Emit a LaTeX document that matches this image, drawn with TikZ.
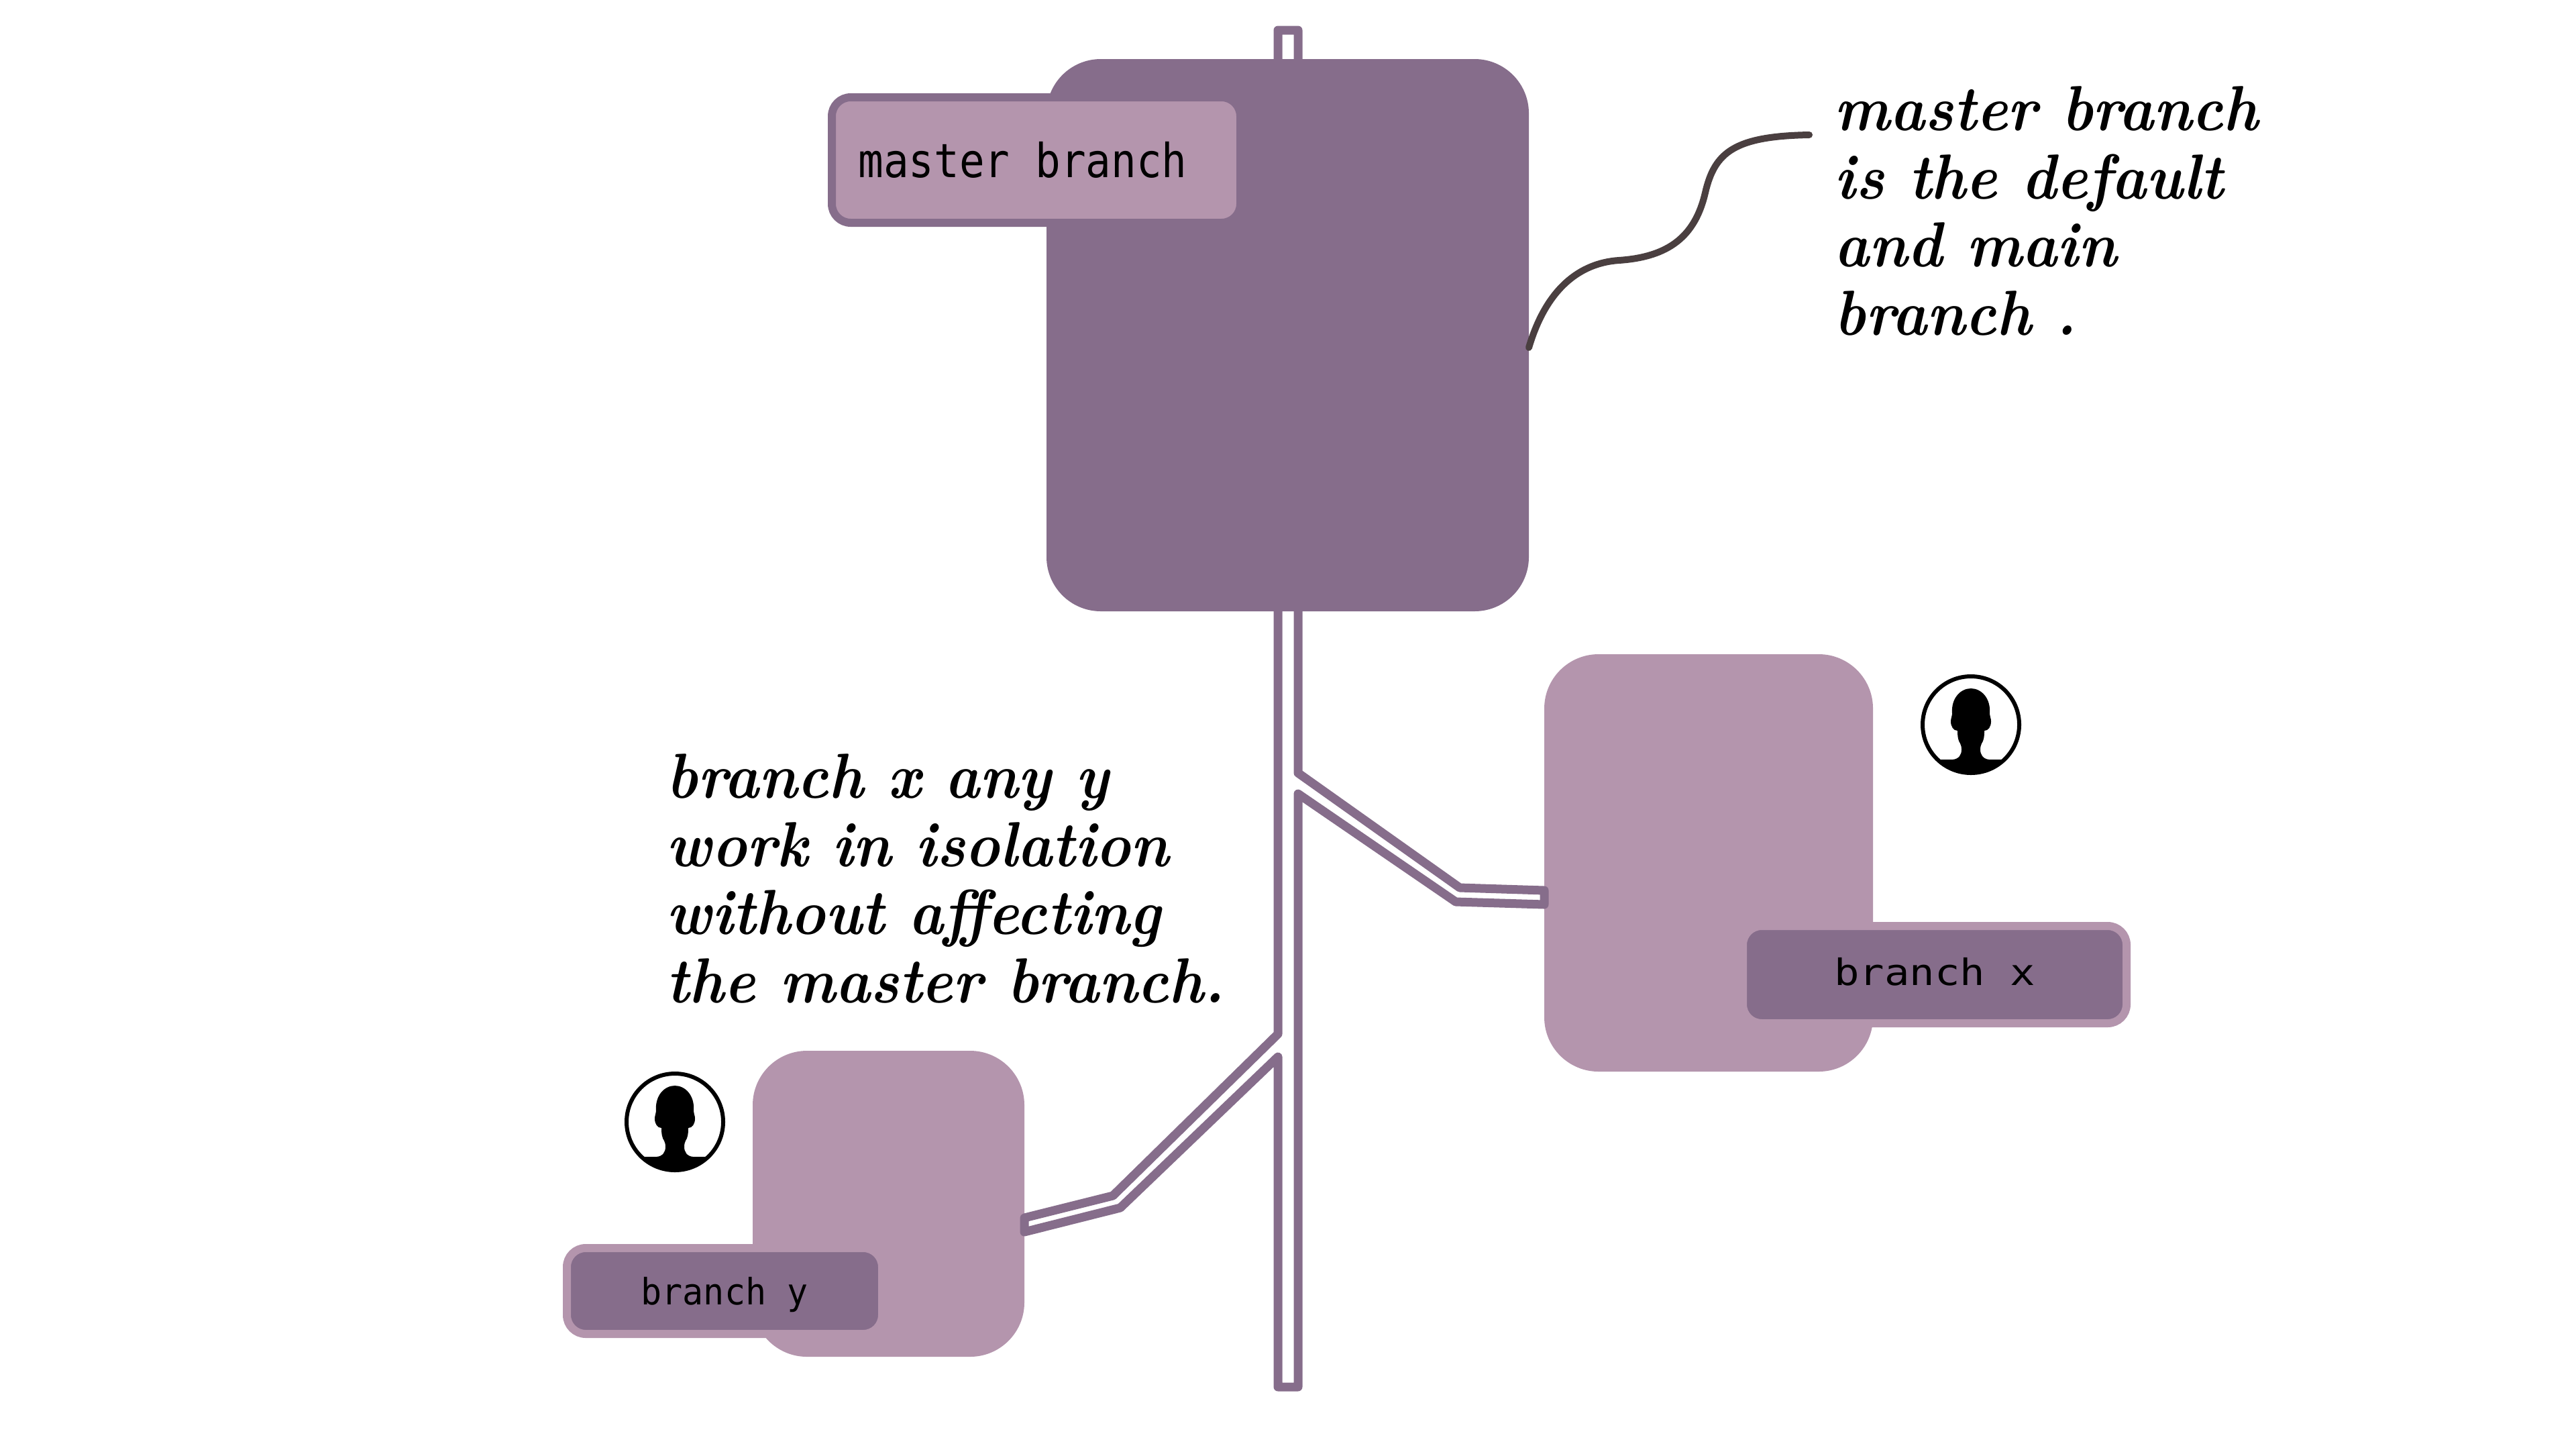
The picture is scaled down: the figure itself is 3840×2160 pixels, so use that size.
\documentclass[tikz,border=0pt]{standalone}
\usepackage{fontspec}
\usepackage{tikz}
\newfontfamily\masterfont[FakeStretch=0.895]{DejaVu Sans Mono}
\newfontfamily\xfont[FakeStretch=1.15]{DejaVu Sans Mono}
\newfontfamily\yfont[FakeStretch=0.955]{DejaVu Sans Mono}
\newfontfamily\handfont[FakeStretch=0.925]{Latin Modern Roman}
\definecolor{darkplum}{HTML}{866D8B}
\definecolor{lightplum}{HTML}{B495AD}
\definecolor{curvegrey}{HTML}{4A3F40}
\tikzset{
  workbox/.style={rectangle, rounded corners=23pt, inner sep=0pt},
  tag/.style={rectangle, rounded corners=8pt, draw, line width=12*0.01cm, inner sep=0pt},
  note/.style={align=left, inner sep=0pt, anchor=north west, font=\handfont\bfseries\itshape\fontsize{27}{28.9}\selectfont},
  pipewall/.style={draw=darkplum, fill=white, line width=13*0.01cm, line join=round},
  person/.pic={
    \node [circle, draw=black, line width=6*0.01cm, minimum size=144*0.01cm, inner sep=0pt] (-ring) at (0,0) {};
    \begin{scope}
    \clip (0,0) circle (72);
    \fill (-80,52) -- (-27,52) .. controls (-18,51) and (-14,45) .. (-14,37) .. controls (-14,33) and (-15,30) .. (-16,28)
      .. controls (-19,24) and (-20,18) .. (-20,9) .. controls (-26,9) and (-30,3) .. (-30,-5) .. controls (-30,-10) and (-28,-12) .. (-28,-16)
      .. controls (-30,-40) and (-15,-54) .. (0,-54) .. controls (15,-54) and (30,-40) .. (28,-16)
      .. controls (28,-12) and (30,-10) .. (30,-5) .. controls (30,3) and (26,9) .. (20,9)
      .. controls (20,18) and (19,24) .. (16,28) .. controls (15,30) and (14,33) .. (14,37)
      .. controls (14,45) and (18,51) .. (27,52) -- (80,52) -- (80,80) -- (-80,80) -- cycle;
    \end{scope}
  }
}
\begin{document}
\begin{tikzpicture}[x=0.01cm, y=-0.01cm]
\useasboundingbox (0,0) rectangle (3840,2160);

\node [workbox, fill=lightplum, minimum width=490*0.01cm, minimum height=622*0.01cm] (boxx) at (2547,1286) {};
\node [workbox, fill=lightplum, minimum width=405*0.01cm, minimum height=456*0.01cm] (boxy) at (1324.5,1794) {};

\draw [pipewall] (1905,45) -- (1935,45) -- (1935,1152) -- (2176,1323) -- (2302,1327) -- (2302,1348) -- (2170,1344) -- (1935,1183)
  -- (1935,2067) -- (1905,2067) -- (1905,1575) -- (1670,1800) -- (1527,1836) -- (1527,1815) -- (1659,1782) -- (1905,1541) -- cycle;

\node [workbox, fill=darkplum, minimum width=719*0.01cm, minimum height=823*0.01cm] (master) at (1919.5,499.5) {};

\node [tag, draw=darkplum, fill=lightplum, minimum width=609*0.01cm, minimum height=187*0.01cm, font=\masterfont\fontsize{19.9}{24}\selectfont] (mastertag) at (1544.5,238.5) {master branch\hspace{0.57em}\mbox{}};
\node [tag, draw=lightplum, fill=darkplum, minimum width=572*0.01cm, minimum height=145*0.01cm, text height=33*0.01cm, font=\xfont\fontsize{15.4}{18}\selectfont] (tagx) at (2884,1452.5) {branch x};
\node [tag, draw=lightplum, fill=darkplum, minimum width=470*0.01cm, minimum height=128*0.01cm, text depth=0pt, font=\yfont\fontsize{15.4}{18}\selectfont] (tagy) at (1080,1924) {branch y};

\pic (iconx) at (2938,1080) {person};
\pic (icony) at (1006,1672) {person};

\node [note] (masternote) at (2734,128) {master branch\\is the default\\and main\\branch .};
\node [note] (branchnote) at (993,1123) {branch x any y\\work in isolation\\without affecting\\the master branch.};

\coordinate (curvestart) at (2279,518);
\coordinate (curveend) at (2697,201);
\draw [curvegrey, line width=10*0.01cm, line cap=round] (curvestart) .. controls (2305,430) and (2355,392) .. (2413,388)
  .. controls (2488,383) and (2527,352) .. (2542,287) .. controls (2556,227) and (2585,203) .. (curveend);
\end{tikzpicture}
\end{document}
